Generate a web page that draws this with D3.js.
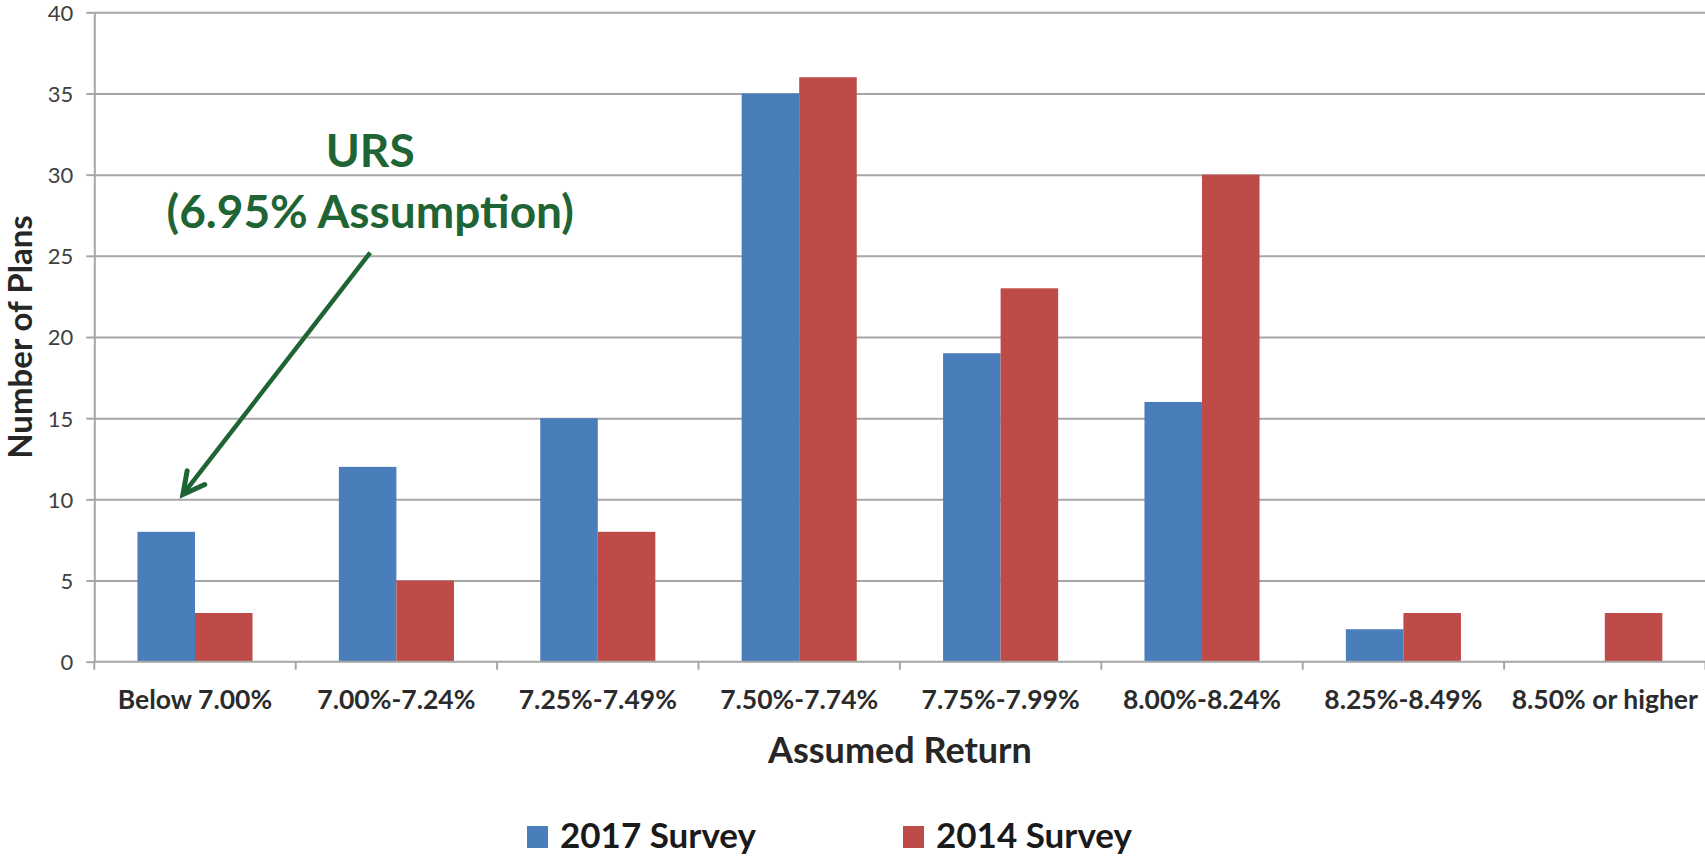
<!DOCTYPE html>
<html>
<head>
<meta charset="utf-8">
<script src="https://cdn.jsdelivr.net/npm/d3@7/dist/d3.min.js"></script>
<style>
  html, body { margin: 0; padding: 0; background: #fff; }
  svg { display: block; }
  text { font-family: Lato, "Open Sans", sans-serif; }
</style>
</head>
<body>
<svg id="chart" width="1705" height="857"></svg>
<script>
// Assumed-return brackets (x categories)
const categories = [
  "Below 7.00%", "7.00%-7.24%", "7.25%-7.49%", "7.50%-7.74%",
  "7.75%-7.99%", "8.00%-8.24%", "8.25%-8.49%", "8.50% or higher"
];
// Number of plans per bracket
const survey2017 = [8, 12, 15, 35, 19, 16, 2, 0];
const survey2014 = [3, 5, 8, 36, 23, 30, 3, 3];
const seriesNames = ["2017 Survey", "2014 Survey"];
const seriesColors = ["#4a7ebb", "#be4b48"];
const yTicks = [0, 5, 10, 15, 20, 25, 30, 35, 40];

const svg = d3.select("#chart");
const plot = { left: 94.3, right: 1705.5, top: 12.3, bottom: 661.7 };

const x = d3.scaleBand().domain(categories).range([plot.left, plot.right]).paddingInner(0).paddingOuter(0);
const xs = d3.scaleBand().domain(seriesNames).range([0, x.bandwidth()]).paddingInner(0).paddingOuter(0.75);
const y = d3.scaleLinear().domain([0, 40]).range([plot.bottom, plot.top]);

const gridColor = "#a6a6a6";

// horizontal gridlines with short ticks to the left of the axis
const yAxis = d3.axisLeft(y).tickValues(yTicks).tickSize(8).tickPadding(13).tickSizeOuter(0);
const gy = svg.append("g").attr("transform", `translate(${plot.left},0)`).call(yAxis);
gy.select(".domain").attr("stroke", gridColor).attr("stroke-width", 2);
gy.selectAll(".tick line").attr("stroke", gridColor).attr("stroke-width", 2);
gy.selectAll(".tick text")
  .attr("fill", "#404040").style("font-size", "22px").attr("dy", "0.36em");
gy.selectAll(".tick").filter(d => d > 0).append("line")
  .attr("x1", 0).attr("x2", plot.right - plot.left)
  .attr("stroke", gridColor).attr("stroke-width", 2);

// bars
const rows = categories.map((c, i) => ({ cat: c, vals: [survey2017[i], survey2014[i]] }));
const groups = svg.append("g").selectAll("g").data(rows).join("g")
  .attr("transform", d => `translate(${x(d.cat)},0)`);
groups.selectAll("rect")
  .data(d => d.vals.map((v, j) => ({ name: seriesNames[j], v, j })).filter(e => e.v > 0))
  .join("rect")
  .attr("x", e => xs(e.name))
  .attr("width", xs.bandwidth())
  .attr("y", e => y(e.v))
  .attr("height", e => y(0) - y(e.v))
  .attr("fill", e => seriesColors[e.j]);

// category axis with ticks at band boundaries
const gx = svg.append("g").attr("transform", `translate(0,${plot.bottom})`);
gx.append("line").attr("x1", plot.left).attr("x2", plot.right)
  .attr("stroke", gridColor).attr("stroke-width", 2);
const bounds = categories.map(c => x(c)).concat([plot.right]);
gx.selectAll("line.bt").data(bounds).join("line").attr("class", "bt")
  .attr("x1", d => d).attr("x2", d => d).attr("y1", 0).attr("y2", 8)
  .attr("stroke", gridColor).attr("stroke-width", 2);
gx.selectAll("text").data(categories).join("text")
  .attr("x", d => x(d) + x.bandwidth() / 2)
  .attr("y", 47)
  .attr("text-anchor", "middle")
  .attr("fill", "#2b2b2b")
  .style("font-size", "26.5px").style("font-weight", "bold")
  .text(d => d);

// axis titles
svg.append("text")
  .attr("x", (plot.left + plot.right) / 2).attr("y", 763)
  .attr("text-anchor", "middle").attr("fill", "#262626")
  .style("font-size", "36px").style("font-weight", "bold")
  .text("Assumed Return");
svg.append("text")
  .attr("transform", `translate(32,${(plot.top + plot.bottom) / 2}) rotate(-90)`)
  .attr("text-anchor", "middle").attr("fill", "#262626")
  .style("font-size", "33px").style("font-weight", "bold")
  .text("Number of Plans");

// legend
const legendX = [527, 903];
const lg = svg.append("g").selectAll("g").data(seriesNames).join("g")
  .attr("transform", (d, i) => `translate(${legendX[i]},826)`);
lg.append("rect").attr("width", 21).attr("height", 22).attr("fill", (d, i) => seriesColors[i]);
lg.append("text")
  .attr("x", 33).attr("y", 22)
  .attr("fill", "#1a1a1a")
  .style("font-size", "35px").style("font-weight", "bold")
  .text(d => d);

// URS annotation: label and arrow pointing into the lowest bracket
const annoGreen = "#1f6434";
const tail = { cat: categories[1], frac: 0.37, v: 25.2 };
const tip = { cat: categories[0], frac: 0.44, v: 10.3 };
const px = p => x(p.cat) + p.frac * x.bandwidth();
const labelX = px(tail);
svg.append("text").attr("x", labelX).attr("y", y(30.5))
  .attr("text-anchor", "middle").attr("fill", annoGreen)
  .style("font-size", "46px").style("font-weight", "bold").text("URS");
svg.append("text").attr("x", labelX).attr("y", y(26.7))
  .attr("text-anchor", "middle").attr("fill", annoGreen)
  .style("font-size", "46px").style("font-weight", "bold").text("(6.95% Assumption)");

const x0 = px(tail), y0 = y(tail.v), x1 = px(tip), y1 = y(tip.v);
const ang = Math.atan2(y1 - y0, x1 - x0);
const headLen = 24, spread = Math.PI / 6.5;
svg.append("line").attr("x1", x0).attr("y1", y0).attr("x2", x1).attr("y2", y1)
  .attr("stroke", annoGreen).attr("stroke-width", 4.5);
const wing = s => [x1 - headLen * Math.cos(ang + s), y1 - headLen * Math.sin(ang + s)];
svg.append("path")
  .attr("d", d3.line()([wing(spread), [x1, y1], wing(-spread)]))
  .attr("fill", "none").attr("stroke", annoGreen).attr("stroke-width", 5)
  .attr("stroke-linejoin", "miter").attr("stroke-linecap", "round");
</script>
</body>
</html>
